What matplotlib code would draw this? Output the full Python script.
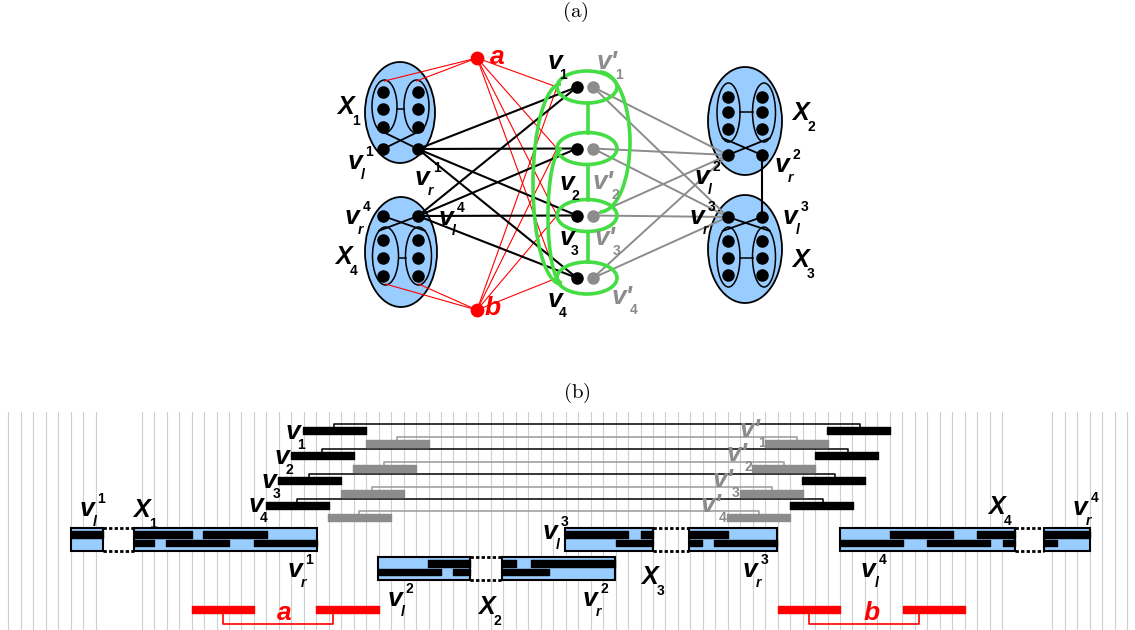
import matplotlib
matplotlib.use('Agg')
import matplotlib.pyplot as plt
from matplotlib.patches import Ellipse, Arc

plt.rcParams['mathtext.fontset'] = 'cm'

BLUE = '#99ccff'
GREEN = '#44dd44'
GREY = '#8c8c8c'
RED = '#ff0000'

# ---------------- (a) the graph ----------------
# clique ellipses X1..X4 (centre, size)
clique_cx = [400, 745, 745, 401]
clique_cy = [112.5, 121, 249, 252]
clique_w = [70, 74, 74, 72]
clique_h = [101, 108, 108, 110]
# the two inner ellipses of each clique
inner_x = [(384.5, 416.5), (728.5, 764), (728.5, 764), (385.5, 418.5)]
inner_cy = [106.5, 112.5, 257, 256]
inner_h = [53, 59, 60, 58]
inner_w = [25, 23, 23, 26]
# vertex columns inside each clique
dot_x = [(383, 418), (728, 762), (728, 762), (383, 418)]
dot_rows = [(92, 109, 127), (97, 112, 129), (241, 258, 275), (240, 258, 276)]
port_y = [149, 155, 217, 216]       # the v_l / v_r vertices
port_side = [1, 1, -1, -1]          # ports below (+1) or above (-1)

# v1..v4 and v'1..v'4
v_x, vp_x = 577, 593
v_y = [87, 148.5, 215.5, 278]
a_pt = (477, 58)
b_pt = (477, 310)
hub_x = 557                          # where the red edges meet each v row

# ---------------- (b) the interval model ----------------
bar_len = 63
vb_left = [303.3, 291, 278.3, 266]
vb_right = [827.3, 815, 802.3, 790]
vb_y = [430.3, 455.3, 480.3, 505.3]
vg_left = [366, 353.3, 340.7, 328.3]
vg_right = [765, 752.3, 740, 727.3]
vg_y = [443.3, 468.3, 493.3, 517.7]

box_top = [528.3, 557.3, 528.3, 528.3]
box_pieces = [[(70.7, 103.3), (134.3, 316.7)],
              [(378.3, 470), (502.3, 615)],
              [(565, 653.3), (689.3, 776.7)],
              [(840, 1015), (1044, 1090)]]
strip_upper = [[(70.7, 103.3), (134.3, 191.7), (203.3, 266.7)],
               [(428.3, 470), (502.3, 515.7), (531, 615)],
               [(565, 628.3), (640.7, 653.3), (689.3, 727.7)],
               [(890, 952.7), (977.3, 1015), (1044, 1090)]]
strip_lower = [[(134.3, 154), (166, 229.3), (254, 316.7)],
               [(378.3, 441), (453.3, 470), (502.3, 549)],
               [(615.7, 653.3), (689.3, 701.7), (714, 776.7)],
               [(840, 902.7), (927.3, 990), (1002.7, 1015), (1044, 1056.7)]]

red_bars = [[(191.7, 254), (316, 379)], [(777.7, 840), (902.7, 965)]]
red_links = [(222.7, 332.7), (809, 919)]
red_y = 609.7

grid_segments = [(8.3, 12.5, 8), (141.7, 12.47, 70), (1052.3, 12.45, 7)]

# labels: text, x, y, superscript, subscript, colour
top_labels = [
    ('X', 345, 107, None, '1', 'k'), ('X', 800, 113, None, '2', 'k'),
    ('X', 800, 260, None, '3', 'k'), ('X', 343, 257, None, '4', 'k'),
    ('v', 355, 162, '1', 'l', 'k'), ('v', 422, 178, '1', 'r', 'k'),
    ('v', 352, 217, '4', 'r', 'k'), ('v', 446, 218, '4', 'l', 'k'),
    ('v', 782, 165, '2', 'r', 'k'), ('v', 702, 177, '2', 'l', 'k'),
    ('v', 697, 217, '3', 'r', 'k'), ('v', 790, 217, '3', 'l', 'k'),
    ('v', 555, 62, None, '1', 'k'), ('v', 567, 183, None, '2', 'k'),
    ('v', 567, 238, None, '3', 'k'), ('v', 555, 300, None, '4', 'k'),
    ("v'", 607, 62, None, '1', GREY), ("v'", 603, 182, None, '2', GREY),
    ("v'", 605, 238, None, '3', GREY), ("v'", 622, 297, None, '4', GREY),
    ('a', 497, 57, None, None, RED), ('b', 493, 308, None, None, RED),
]
bottom_labels = [
    ('v', 293, 432, None, '1', 'k'), ('v', 281.7, 456.7, None, '2', 'k'),
    ('v', 269, 480.7, None, '3', 'k'), ('v', 255.7, 505, None, '4', 'k'),
    ("v'", 750, 430, None, '1', GREY), ("v'", 736.7, 454.3, None, '2', GREY),
    ("v'", 723.3, 480, None, '3', GREY), ("v'", 710.7, 505, None, '4', GREY),
    ('v', 87, 509, '1', 'l', 'k'), ('X', 141.7, 510, None, '1', 'k'),
    ('v', 295, 570, '1', 'r', 'k'), ('v', 395, 599, '2', 'l', 'k'),
    ('X', 486.7, 606.7, None, '2', 'k'), ('v', 590, 599, '2', 'r', 'k'),
    ('X', 649.3, 576.7, None, '3', 'k'), ('v', 550, 531.7, '3', 'l', 'k'),
    ('v', 750, 570, '3', 'r', 'k'), ('v', 868.3, 570, '4', 'l', 'k'),
    ('X', 996.7, 506.7, None, '4', 'k'), ('v', 1080, 508.3, '4', 'r', 'k'),
    ('a', 284.3, 613.3, None, None, RED), ('b', 871.7, 613, None, None, RED),
]

fig = plt.figure(figsize=(11.35, 6.3), dpi=100)
ax = fig.add_axes([0, 0, 1, 1])
ax.set_xlim(0, 1135)
ax.set_ylim(630, 0)
ax.axis('off')

FONT = 'Liberation Sans'


def label(base, x, y, sup, sub, color):
    size = 18 if base == 'X' else 19
    ax.text(x, y, base, ha='center', va='center', fontsize=size, color=color,
            family=FONT, weight='bold', style='italic', zorder=10)
    if base == 'X':
        dx, dy = 11, 14
    elif base == "v'":
        dx, dy = 12, 13
    else:
        dx, dy = 8, 13
    if sup:
        ax.text(x + 14.5, y - 10, sup, ha='center', va='center', fontsize=10,
                color=color, family=FONT, weight='bold', zorder=10)
    if sub:
        st = 'italic' if sub in 'lr' else 'normal'
        ax.text(x + dx, y + dy, sub, ha='center', va='center', fontsize=10,
                color=color, family=FONT, weight='bold', style=st, zorder=10)


# ---- (a) ----
ax.text(575, 12, r'$\mathrm{(a)}$', ha='center', va='center', fontsize=15)

for i in range(4):
    ax.add_patch(Ellipse((clique_cx[i], clique_cy[i]), clique_w[i], clique_h[i],
                         fc=BLUE, ec='k', lw=1.3, zorder=1))
    for ix in inner_x[i]:
        ax.add_patch(Ellipse((ix, inner_cy[i]), inner_w[i], inner_h[i],
                             fc='none', ec='k', lw=1.1, zorder=2))
    lx, rx = dot_x[i]
    ax.scatter([lx] * 3 + [rx] * 3, list(dot_rows[i]) * 2, s=64, c='k', zorder=6)
    ax.scatter([lx, rx], [port_y[i]] * 2, s=64, c='k', zorder=6)
    # edge between the two columns
    ax.plot([inner_x[i][0] + inner_w[i] / 2, inner_x[i][1] - inner_w[i] / 2],
            [dot_rows[i][1]] * 2, color='k', lw=1.1, zorder=2)
    # the crossing edges from the ports into the other column
    s = port_side[i]
    ey = inner_cy[i] + s * 0.87 * inner_h[i] / 2
    ax.plot([lx, inner_x[i][1] + 0.5 * inner_w[i] / 2], [port_y[i], ey],
            color='k', lw=1.3, zorder=3)
    ax.plot([rx, inner_x[i][0] - 0.5 * inner_w[i] / 2], [port_y[i], ey],
            color='k', lw=1.3, zorder=3)

# red edges
for end, tgt_y in ((a_pt, inner_cy[0] - inner_h[0] / 2 + 1),
                   (b_pt, inner_cy[3] + inner_h[3] / 2 - 1)):
    for ix in (inner_x[0] if end is a_pt else inner_x[3]):
        ax.plot([end[0], ix], [end[1], tgt_y], color=RED, lw=0.8, zorder=3)
    for vy in v_y:
        ax.plot([end[0], hub_x], [end[1], vy], color=RED, lw=0.8, zorder=3)
ax.scatter([a_pt[0], b_pt[0]], [a_pt[1], b_pt[1]], s=80, c=RED, zorder=6)

# black edges from v_r^1 and v_l^4 to every v_i
for px, py in ((dot_x[0][1], port_y[0]), (dot_x[3][1], port_y[3])):
    for vy in v_y:
        ax.plot([px, v_x], [py, vy], color='k', lw=1.5, zorder=3)

# grey edges from every v'_i to v_l^2 and v_r^3
for vy in v_y:
    for px, py in ((dot_x[1][0], port_y[1]), (dot_x[2][0], port_y[2])):
        ax.plot([vp_x, px], [vy, py], color=GREY, lw=1.4, zorder=3)
ax.plot([dot_x[1][1], dot_x[2][1]], [port_y[1], port_y[2]], color='k', lw=1.5, zorder=3)

# green structure
for vy in v_y:
    ax.add_patch(Ellipse((587, vy), 60, 32, fc='none', ec=GREEN, lw=2.6, zorder=4))
for j in range(3):
    ax.plot([588, 588], [v_y[j] + 16, v_y[j + 1] - 16], color=GREEN, lw=2.6, zorder=4)
ax.add_patch(Arc((600, 142), 60, 140, theta1=-90, theta2=90, ec=GREEN, lw=2.6, zorder=4))
ax.add_patch(Arc((561, 184), 56, 200, theta1=90, theta2=270, ec=GREEN, lw=2.6, zorder=4))
ax.add_patch(Arc((562, 216), 28, 134, theta1=90, theta2=270, ec=GREEN, lw=2.6, zorder=4))

ax.scatter([v_x] * 4, v_y, s=64, c='k', zorder=6)
ax.scatter([vp_x] * 4, v_y, s=64, c=GREY, zorder=6)

for lb in top_labels:
    label(*lb)

# ---- (b) ----
ax.text(577, 393, r'$\mathrm{(b)}$', ha='center', va='center', fontsize=15)

for x0, step, n in grid_segments:
    for k in range(n):
        ax.plot([x0 + k * step] * 2, [412, 630], color='#cfcfcf', lw=0.8, zorder=0)

for i in range(4):
    # v_i : black pair of intervals joined above
    lx, rx = vb_left[i] + 31, vb_right[i] + 33
    ax.plot([lx, lx, rx, rx], [vb_y[i], vb_y[i] - 6.5, vb_y[i] - 6.5, vb_y[i]],
            color='k', lw=1.1, zorder=2)
    ax.broken_barh([(vb_left[i], bar_len), (vb_right[i], bar_len)],
                   (vb_y[i] - 3.6, 7.2), color='k', zorder=3)
    # v'_i : grey pair
    lx, rx = vg_left[i] + 31, vg_right[i] + 32
    ax.plot([lx, lx, rx, rx], [vg_y[i], vg_y[i] - 6.3, vg_y[i] - 6.3, vg_y[i]],
            color='#999999', lw=1.1, zorder=2)
    ax.broken_barh([(vg_left[i], bar_len), (vg_right[i], bar_len)],
                   (vg_y[i] - 3.6, 7.2), color=GREY, zorder=3)

for i in range(4):
    top = box_top[i]
    for p0, p1 in box_pieces[i]:
        ax.add_patch(plt.Rectangle((p0, top), p1 - p0, 22.4, fc=BLUE, ec='k',
                                   lw=1.5, zorder=3))
    ax.broken_barh([(p0, p1 - p0) for p0, p1 in strip_upper[i]], (top + 3, 6.6),
                   color='k', zorder=4)
    ax.broken_barh([(p0, p1 - p0) for p0, p1 in strip_lower[i]], (top + 11.4, 6.6),
                   color='k', zorder=4)
    g0, g1 = box_pieces[i][0][1], box_pieces[i][1][0]
    for yy in (top, top + 22.4):
        ax.plot([g0, g1], [yy, yy], color='k', lw=2, ls=(0, (1.2, 0.8)), zorder=4)

for bars, (l0, l1) in zip(red_bars, red_links):
    ax.plot([l0, l0, l1, l1], [red_y, 624, 624, red_y], color=RED, lw=1.2, zorder=2)
    ax.broken_barh([(p0, p1 - p0) for p0, p1 in bars], (red_y - 3.6, 7.2),
                   color=RED, zorder=3)

for lb in bottom_labels:
    label(*lb)

fig.savefig('out.png', dpi=100)
